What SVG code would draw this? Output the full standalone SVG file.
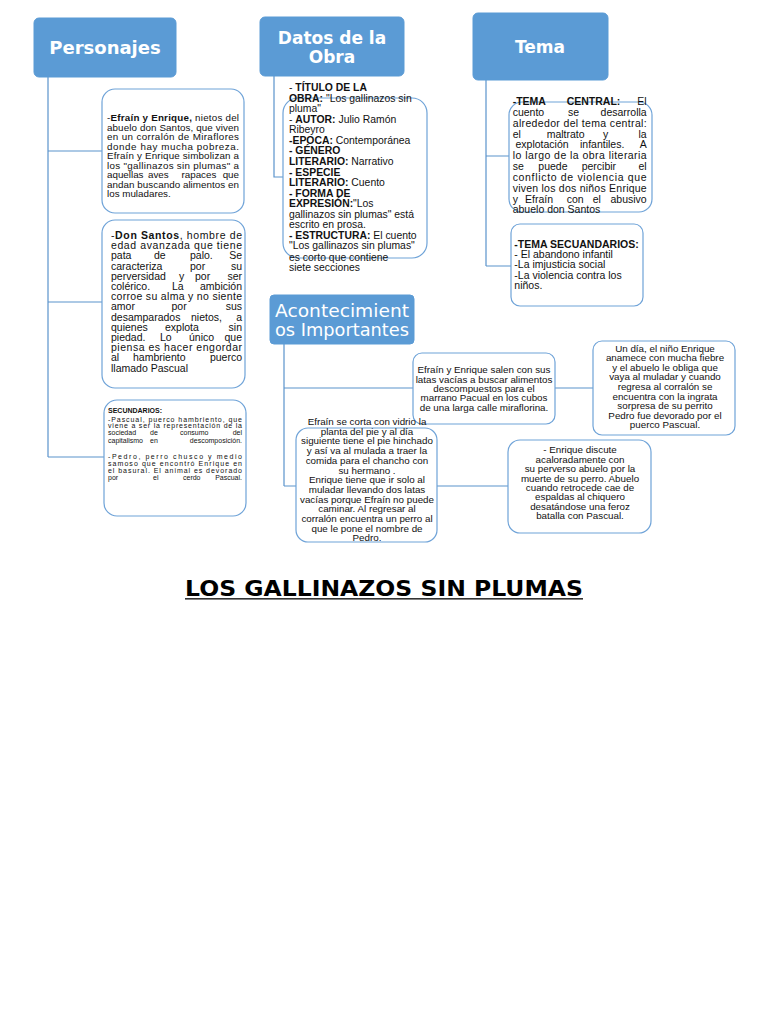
<svg xmlns="http://www.w3.org/2000/svg" width="768" height="1024" viewBox="0 0 768 1024">
<style>
.hdr{fill:#5b9bd5;stroke:#5b9bd5;stroke-width:1}
.ht{fill:#fff;font-family:"DejaVu Sans",sans-serif;text-anchor:middle}
.box{fill:#fff;stroke:#6fa3d8;stroke-width:1.2}
.con{stroke:#5b93cc;stroke-width:1.2;fill:none}
.t{font-family:"Liberation Sans",Arial,sans-serif;fill:#111}
.b{font-weight:bold}
.c{text-anchor:middle}
.e{text-anchor:end}
.s1{font-size:9.8px}
.s2{font-size:10.5px}
.s7{font-size:7px}
.sd{font-size:10.4px}
.sc{font-size:9.8px}
</style>
<rect width="768" height="1024" fill="#fff"/>

<g id="connectors">
<path class="con" d="M48 77V457M48 151H102M48 302H103M48 457H104"/>
<path class="con" d="M274 76V177H283"/>
<path class="con" d="M486 80V266M486 156H509M486 266H511"/>
<path class="con" d="M284 344V486M284 388H413M284 486H296M555 388H593M437 486H508"/>
</g>

<g id="personajes">
<rect class="hdr" x="34" y="18" width="142" height="59" rx="5"/>
<text class="ht b" x="105" y="54" font-size="18" font-weight="bold">Personajes</text>
</g>

<g id="efrain-enrique">
<rect class="box" x="102" y="89" width="142" height="124" rx="13"/>
<g class="t s1">
<text x="107" y="121" textLength="132" lengthAdjust="spacing">-<tspan class="b">Efraín y Enrique,</tspan> nietos del</text>
<text x="107" y="130.5" textLength="132" lengthAdjust="spacing">abuelo don Santos, que viven</text>
<text x="107" y="140" textLength="132" lengthAdjust="spacing">en un corralón de Miraflores</text>
<text x="107" y="149.5" textLength="132" lengthAdjust="spacing">donde hay mucha pobreza.</text>
<text x="107" y="159" textLength="132" lengthAdjust="spacing">Efraín y Enrique simbolizan a</text>
<text x="107" y="168.5" textLength="132" lengthAdjust="spacing">los "gallinazos sin plumas" a</text>
<text x="107" y="178">aquellas</text><text x="148" y="178">aves</text><text x="181.5" y="178">rapaces</text><text class="e" x="239" y="178">que</text>
<text x="107" y="187.5" textLength="132" lengthAdjust="spacing">andan buscando alimentos en</text>
<text x="107" y="197">los muladares.</text>
</g>
</g>

<g id="don-santos">
<rect class="box" x="102" y="220" width="143" height="168" rx="13"/>
<g class="t s2">
<text x="111" y="239" textLength="131" lengthAdjust="spacing">-<tspan class="b">Don Santos</tspan>, hombre de</text>
<text x="111" y="249.2" textLength="131" lengthAdjust="spacing">edad avanzada que tiene</text>
<text x="111" y="259.4">pata</text><text x="154" y="259.4">de</text><text x="190" y="259.4">palo.</text><text class="e" x="242" y="259.4">Se</text>
<text x="111" y="269.6">caracteriza</text><text x="190" y="269.6">por</text><text class="e" x="242" y="269.6">su</text>
<text x="111" y="279.8">perversidad</text><text x="179" y="279.8">y</text><text x="195" y="279.8">por</text><text class="e" x="242" y="279.8">ser</text>
<text x="111" y="290">colérico.</text><text x="172" y="290">La</text><text class="e" x="242" y="290">ambición</text>
<text x="111" y="300.2" textLength="131" lengthAdjust="spacing">corroe su alma y no siente</text>
<text x="111" y="310.4">amor</text><text x="171.5" y="310.4">por</text><text class="e" x="242" y="310.4">sus</text>
<text x="111" y="320.6">desamparados</text><text x="191" y="320.6">nietos,</text><text class="e" x="242" y="320.6">a</text>
<text x="111" y="330.8">quienes</text><text x="165" y="330.8">explota</text><text class="e" x="242" y="330.8">sin</text>
<text x="111" y="341">piedad.</text><text x="160" y="341">Lo</text><text x="189" y="341">único</text><text class="e" x="242" y="341">que</text>
<text x="111" y="351.2" textLength="131" lengthAdjust="spacing">piensa es hacer engordar</text>
<text x="111" y="361.4">al</text><text x="133" y="361.4">hambriento</text><text class="e" x="242" y="361.4">puerco</text>
<text x="111" y="371.6">llamado Pascual</text>
</g>
</g>

<g id="secundarios">
<rect class="box" x="104" y="400" width="142" height="116" rx="13"/>
<g class="t s7">
<text class="b" x="108" y="412.5">SECUNDARIOS:</text>
<text x="108" y="421.5" textLength="134" lengthAdjust="spacing">-Pascual, puerco hambriento, que</text>
<text x="108" y="428.2" textLength="134" lengthAdjust="spacing">viene a ser la representación de la</text>
<text x="108" y="435.2">sociedad</text><text x="150" y="435.2">de</text><text x="180" y="435.2">consumo</text><text class="e" x="242" y="435.2">del</text>
<text x="108" y="442.5">capitalismo</text><text x="150" y="442.5">en</text><text class="e" x="242" y="442.5">descomposición.</text>
<text x="108" y="459.2" textLength="134" lengthAdjust="spacing">-Pedro, perro  chusco y medio</text>
<text x="108" y="465.8" textLength="134" lengthAdjust="spacing">samoso que encontró Enrique en</text>
<text x="108" y="473.2" textLength="134" lengthAdjust="spacing">el basural. El animal es devorado</text>
<text x="108" y="480.2">por</text><text x="153" y="480.2">el</text><text x="183" y="480.2">cerdo</text><text class="e" x="242" y="480.2">Pascual.</text>
</g>
</g>

<g id="datos-obra">
<rect class="hdr" x="260" y="17" width="144" height="59" rx="5"/>
<text class="ht b" x="332" y="44" font-size="17" font-weight="bold">Datos de la</text>
<text class="ht b" x="332" y="63" font-size="17" font-weight="bold">Obra</text>
</g>

<g id="datos-detalle">
<rect class="box" x="283" y="98" width="144" height="160" rx="15"/>
<g class="t sd">
<text x="289" y="91">- <tspan class="b">TÍTULO DE LA</tspan></text>
<text x="289" y="101.7"><tspan class="b">OBRA:</tspan> "Los gallinazos sin</text>
<text x="289" y="112.4">pluma"</text>
<text x="289" y="122.9">- <tspan class="b">AUTOR:</tspan> Julio Ramón</text>
<text x="289" y="133">Ribeyro</text>
<text x="289" y="143.5"><tspan class="b">-EPOCA:</tspan> Contemporánea</text>
<text x="289" y="154.1"><tspan class="b">- GÉNERO</tspan></text>
<text x="289" y="164.5"><tspan class="b">LITERARIO:</tspan> Narrativo</text>
<text x="289" y="175.7"><tspan class="b">- ESPECIE</tspan></text>
<text x="289" y="186.1"><tspan class="b">LITERARIO:</tspan> Cuento</text>
<text x="289" y="196.7"><tspan class="b">- FORMA DE</tspan></text>
<text x="289" y="207.4"><tspan class="b">EXPRESIÓN:</tspan>"Los</text>
<text x="289" y="218.1">gallinazos sin plumas" está</text>
<text x="289" y="228.4">escrito en prosa.</text>
<text x="289" y="239.1"><tspan class="b">- ESTRUCTURA:</tspan> El cuento</text>
<text x="289" y="249.4">"Los gallinazos sin plumas"</text>
<text x="289" y="260.7">es corto que contiene</text>
<text x="289" y="270.7">siete secciones</text>
</g>
</g>

<g id="tema">
<rect class="hdr" x="473" y="13" width="135" height="67" rx="5"/>
<text class="ht b" x="540" y="53" font-size="17" font-weight="bold">Tema</text>
</g>

<g id="tema-central">
<rect class="box" x="509" y="102" width="143" height="110" rx="13"/>
<g class="t s2">
<text class="b" x="512.7" y="105">-TEMA</text><text class="b" x="566.7" y="105">CENTRAL:</text><text class="e" x="646.7" y="105">El</text>
<text x="512.7" y="116">cuento</text><text x="568" y="116">se</text><text class="e" x="646.7" y="116">desarrolla</text>
<text x="512.7" y="126.6" textLength="134" lengthAdjust="spacing">alrededor del tema central:</text>
<text x="512.7" y="137.6">el</text><text x="546.7" y="137.6">maltrato</text><text x="603" y="137.6">y</text><text class="e" x="646.7" y="137.6">la</text>
<text x="515.5" y="148.3">explotación</text><text x="580" y="148.3">infantiles.</text><text class="e" x="646.7" y="148.3">A</text>
<text x="512.7" y="159.3" textLength="134" lengthAdjust="spacing">lo largo de la obra literaria</text>
<text x="512.7" y="170">se</text><text x="538.3" y="170">puede</text><text x="581.7" y="170">percibir</text><text class="e" x="646.7" y="170">el</text>
<text x="512.7" y="181" textLength="134" lengthAdjust="spacing">conflicto  de violencia que</text>
<text x="512.7" y="191.6" textLength="134" lengthAdjust="spacing">viven los dos niños Enrique</text>
<text x="512.7" y="202.6">y</text><text x="525" y="202.6">Efraín</text><text x="566.7" y="202.6">con</text><text x="592.7" y="202.6">el</text><text class="e" x="646.7" y="202.6">abusivo</text>
<text x="512.7" y="212.6">abuelo don Santos</text>
</g>
</g>

<g id="tema-secundarios">
<rect class="box" x="511" y="224" width="132" height="82" rx="9"/>
<g class="t s2">
<text class="b" x="514.3" y="248.4">-TEMA SECUANDARIOS:</text>
<text x="514.3" y="258.4">- El abandono infantil</text>
<text x="514.3" y="268.4">-La imjusticia social</text>
<text x="514.3" y="279">  -La violencia contra los</text>
<text x="514.3" y="289.4">niños.</text>
</g>
</g>

<g id="acontecimientos">
<rect class="hdr" x="270" y="295" width="144" height="49" rx="4"/>
<text class="ht" x="342" y="316.5" font-size="18" textLength="134" lengthAdjust="spacingAndGlyphs">Acontecimient</text>
<text class="ht" x="342" y="335.5" font-size="18" textLength="134" lengthAdjust="spacingAndGlyphs">os Importantes</text>
</g>

<g id="salen">
<rect class="box" x="413" y="353" width="142" height="71" rx="9"/>
<g class="t sc c">
<text x="484" y="373.3">Efraín y Enrique salen con sus</text>
<text x="484" y="382.6">latas vacías a buscar alimentos</text>
<text x="484" y="392">descompuestos para el</text>
<text x="484" y="401.4">marrano Pacual en los cubos</text>
<text x="484" y="410.8">de una larga calle miraflorina.</text>
</g>
</g>

<g id="un-dia">
<rect class="box" x="593" y="341" width="142" height="94" rx="9"/>
<g class="t sc c">
<text x="665" y="351.6">Un día, el niño Enrique</text>
<text x="665" y="361.2">anamece con mucha fiebre</text>
<text x="665" y="370.8">y el abuelo le obliga que</text>
<text x="665" y="380.4">vaya al muladar y cuando</text>
<text x="665" y="390">regresa al corralón se</text>
<text x="665" y="399.6">encuentra con la ingrata</text>
<text x="665" y="409.2">sorpresa de su perrito</text>
<text x="665" y="418.8">Pedro fue devorado por el</text>
<text x="665" y="428.4">puerco Pascual.</text>
</g>
</g>

<g id="se-corta">
<rect class="box" x="296" y="428" width="141" height="114" rx="12"/>
<g class="t sc c">
<text x="367" y="425">Efraín se corta con vidrio la</text>
<text x="367" y="434.7">planta del pie y al día</text>
<text x="367" y="444.4">siguiente tiene el pie hinchado</text>
<text x="367" y="454.1">y así va al mulada a traer la</text>
<text x="367" y="463.8">comida para el chancho con</text>
<text x="367" y="473.5">su hermano .</text>
<text x="367" y="483.2"> Enrique tiene que ir solo al</text>
<text x="367" y="492.9">muladar llevando dos latas</text>
<text x="367" y="502.6">vacías porque Efraín no puede</text>
<text x="367" y="512.3">caminar. Al regresar al</text>
<text x="367" y="522">corralón encuentra un perro al</text>
<text x="367" y="531.7">que le pone el nombre de</text>
<text x="367" y="541.4">Pedro.</text>
</g>
</g>

<g id="discute">
<rect class="box" x="508" y="440" width="143" height="93" rx="12"/>
<g class="t sc c">
<text x="580" y="453.3">- Enrique discute</text>
<text x="580" y="462.7">acaloradamente con</text>
<text x="580" y="472.1">su perverso abuelo por la</text>
<text x="580" y="481.5">muerte de su perro. Abuelo</text>
<text x="580" y="490.9">cuando retrocede cae de</text>
<text x="580" y="500.3">espaldas al chiquero</text>
<text x="580" y="509.7">desatándose una feroz</text>
<text x="580" y="519.1">batalla con  Pascual.</text>
</g>
</g>

<g id="titulo">
<text x="185" y="596" font-family="DejaVu Sans, sans-serif" font-weight="bold" font-size="21" fill="#000" textLength="398" lengthAdjust="spacingAndGlyphs">LOS GALLINAZOS SIN PLUMAS</text>
<rect x="185" y="598" width="398" height="1.6" fill="#333"/>
</g>
</svg>
